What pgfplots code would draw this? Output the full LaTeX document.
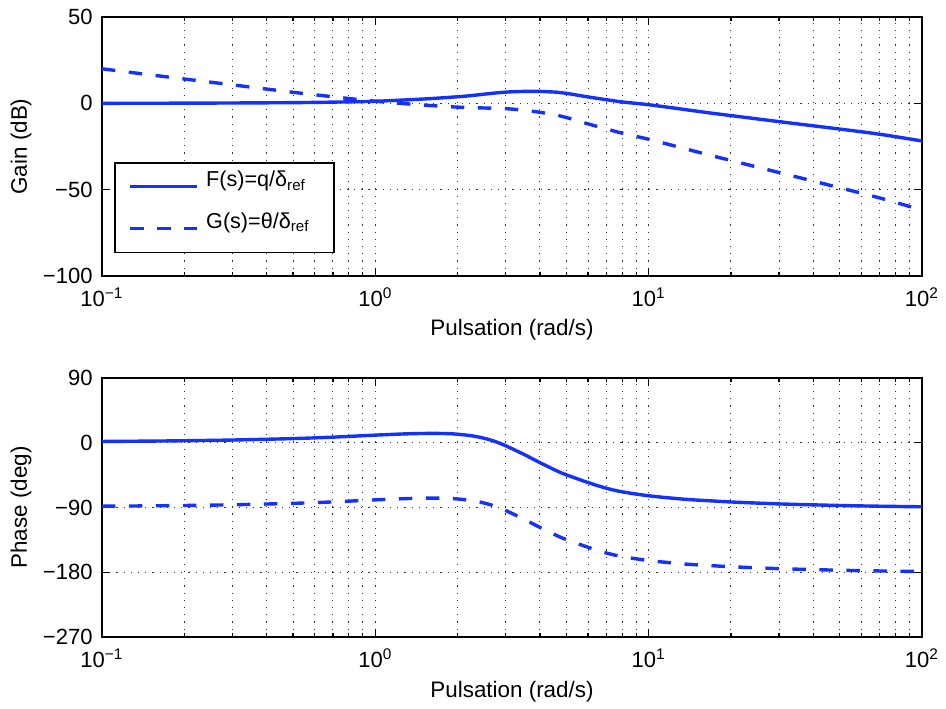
\documentclass[border=0pt]{standalone}
\usepackage{fontspec}
\setmainfont{Liberation Sans}
\usepackage{pgfplots}
\usepackage{pgfplotstable}
\pgfplotsset{compat=1.18}
\definecolor{mblue}{RGB}{20,50,250}

\pgfplotstableread{
w Fg Gg
0.1 0.0 20.0
0.15 0.05 16.5
0.2 0.1 14.1
0.3 0.2 10.7
0.5 0.4 6.4
0.7 0.7 3.8
1 1.2 1.2
1.5 2.5 -1.0
2 3.8 -2.2
2.22 4.4 -2.5
2.5 5.3 -2.7
2.94 6.4 -3.0
3.4 6.85 -3.8
3.89 6.95 -4.9
4.61 6.45 -6.8
5 5.8 -8.2
6 3.7 -11.9
7 2.1 -14.8
8 0.8 -17.3
10 -0.8 -20.8
13 -3.2 -25.5
16.8 -5.6 -30.1
20 -7.1 -33.1
30 -10.6 -40.1
50 -14.9 -48.9
70 -17.9 -54.8
100 -21.8 -61.8
}\gaintable

\pgfplotstableread{
w Fp Gp
0.1 1.8 -88.2
0.15 2.3 -87.7
0.2 2.8 -87.2
0.3 3.8 -86.2
0.5 5.8 -84.2
0.7 7.8 -82.2
1 10.6 -79.4
1.3 12.4 -77.6
1.6 13.0 -77.0
1.9 12.5 -77.5
2.2 10.2 -79.8
2.4 7.8 -82.2
2.63 4.0 -86.0
2.8 0.5 -89.5
3 -4.2 -94.2
3.48 -15.8 -105.8
4 -27.6 -117.6
4.61 -39.0 -129.0
5 -44.6 -134.6
6 -55.3 -145.3
7 -63.2 -153.2
8 -68.2 -158.2
10 -73.7 -163.7
13.4 -78.4 -168.4
16.8 -80.7 -170.7
20 -82.3 -172.3
30 -85.0 -175.0
50 -87.2 -177.2
70 -88.2 -178.2
100 -89.0 -179.0
}\phasetable

\begin{document}
\begin{tikzpicture}[x=1pt,y=1pt]
\path (0,0) rectangle (473,351);
\begin{axis}[at={(51pt,213pt)}, anchor=south west,
  xmode=log, scale only axis, width=410pt, height=129.5pt,
  xmin=0.1, xmax=100,
  axis line style={line width=0.8pt},
  tick style={black, line width=0.6pt},
  major tick length=4pt, minor tick length=2pt,
  tick align=inside, xtick pos=both, ytick pos=both,
  xtick={0.1,1,10,100},
  xticklabels={10\textsuperscript{−1},10\textsuperscript{0},10\textsuperscript{1},10\textsuperscript{2}},
  minor xtick={0.2,0.3,0.4,0.5,0.6,0.7,0.8,0.9,2,3,4,5,6,7,8,9,20,30,40,50,60,70,80,90},
  grid=both,
  major grid style={dash pattern=on 0.6pt off 3pt, black!80, line width=0.5pt},
  minor grid style={dash pattern=on 0.6pt off 3pt, black!80, line width=0.5pt},
  ticklabel style={font=\fontsize{11}{13}\selectfont},
  xticklabel style={yshift=-2.5pt},
  yticklabel style={xshift=-1.2pt},
  label style={font=\fontsize{11.2}{13}\selectfont},
  xlabel={Pulsation (rad/s)},
  xlabel style={at={(axis description cs:0.5,0)}, anchor=base, yshift=-30pt},
  ylabel style={at={(axis description cs:-0.0988,0.5)}, anchor=center},
  ymin=-100, ymax=50,
  ytick={-100,-50,0,50}, yticklabels={−100,−50,0,50},
  ylabel={Gain (dB)},
  legend cell align=left,
  legend image code/.code={\draw[#1] (0pt,0pt) -- (33.5pt,0pt);},
  legend style={at={(0.01463,0.44015)}, anchor=north west, draw=black, line width=0.8pt, fill=white,
    font=\fontsize{10.8}{12}\selectfont, inner xsep=7pt, inner ysep=4pt, row sep=4.8pt, column sep=3.5pt,
    cells={anchor=base west},
    nodes={inner sep=0pt, text height=8pt, text depth=8pt, text width=57pt, align=left}},
]
\addplot[mblue, line width=1.7pt, smooth] table[x=w,y=Fg]{\gaintable};
\addlegendentry{F(s)=q/δ\textsubscript{ref}}
\addplot[mblue, line width=1.7pt, smooth, dash pattern=on 6.7pt off 6.8pt] table[x=w,y=Gg]{\gaintable};
\addlegendentry{G(s)=θ/δ\textsubscript{ref}}
\end{axis}
\begin{axis}[at={(51pt,32.5pt)}, anchor=south west,
  xmode=log, scale only axis, width=410pt, height=129.5pt,
  xmin=0.1, xmax=100,
  axis line style={line width=0.8pt},
  tick style={black, line width=0.6pt},
  major tick length=4pt, minor tick length=2pt,
  tick align=inside, xtick pos=both, ytick pos=both,
  xtick={0.1,1,10,100},
  xticklabels={10\textsuperscript{−1},10\textsuperscript{0},10\textsuperscript{1},10\textsuperscript{2}},
  minor xtick={0.2,0.3,0.4,0.5,0.6,0.7,0.8,0.9,2,3,4,5,6,7,8,9,20,30,40,50,60,70,80,90},
  grid=both,
  major grid style={dash pattern=on 0.6pt off 3pt, black!80, line width=0.5pt},
  minor grid style={dash pattern=on 0.6pt off 3pt, black!80, line width=0.5pt},
  ticklabel style={font=\fontsize{11}{13}\selectfont},
  xticklabel style={yshift=-2.5pt},
  yticklabel style={xshift=-1.2pt},
  label style={font=\fontsize{11.2}{13}\selectfont},
  xlabel={Pulsation (rad/s)},
  xlabel style={at={(axis description cs:0.5,0)}, anchor=base, yshift=-30pt},
  ylabel style={at={(axis description cs:-0.0988,0.5)}, anchor=center},
  ymin=-270, ymax=90,
  ytick={-270,-180,-90,0,90}, yticklabels={−270,−180,−90,0,90},
  ylabel={Phase (deg)},
]
\addplot[mblue, line width=1.7pt, smooth] table[x=w,y=Fp]{\phasetable};
\addplot[mblue, line width=1.7pt, smooth, dash pattern=on 6.7pt off 6.8pt] table[x=w,y=Gp]{\phasetable};
\end{axis}
\end{tikzpicture}
\end{document}
